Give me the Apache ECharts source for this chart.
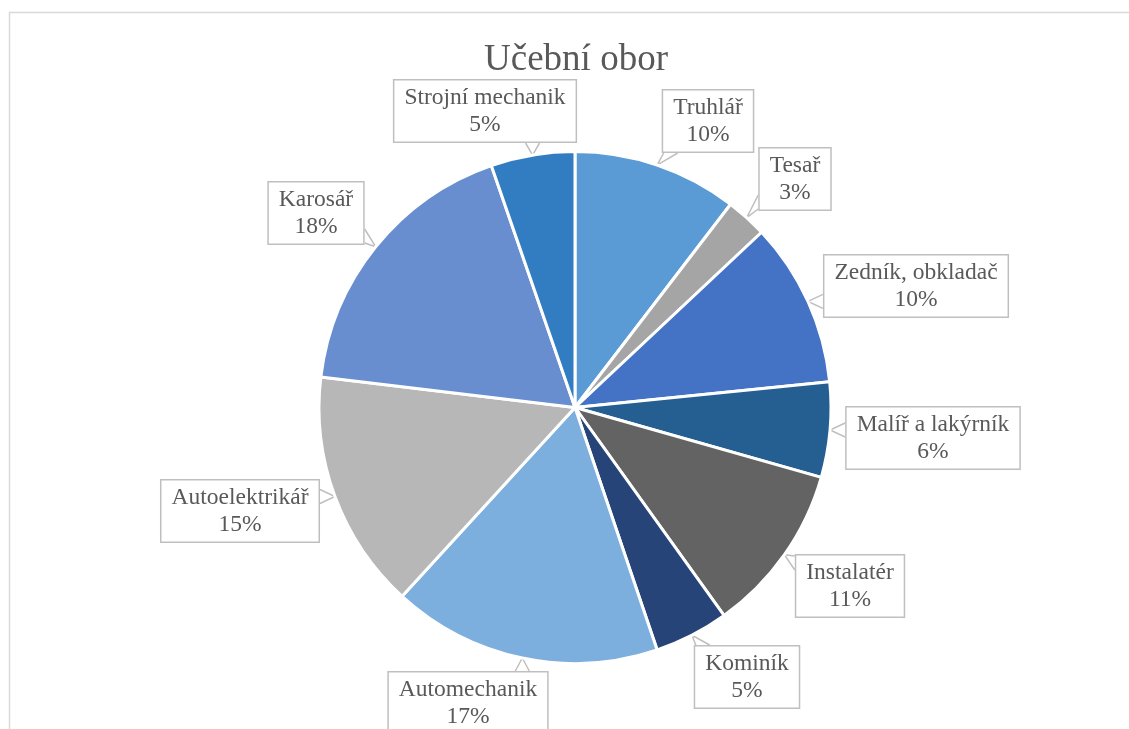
<!DOCTYPE html>
<html>
<head>
<meta charset="utf-8">
<script src="https://cdn.jsdelivr.net/npm/echarts@6/dist/echarts.min.js"></script>
<style>
  html, body { margin: 0; padding: 0; background: #fff; }
  #chart { width: 1129px; height: 729px; }
</style>
</head>
<body>
<div id="chart"></div>
<script>
  // data (share of each obor, in %)
  const obory = [
    'Truhlář',
    'Tesař',
    'Zedník, obkladač',
    'Malíř a lakýrník',
    'Instalatér',
    'Kominík',
    'Automechanik',
    'Autoelektrikář',
    'Karosář',
    'Strojní mechanik',
  ];
  const podily = [10.4, 2.6, 10.4, 6.0, 10.7, 4.7, 17.0, 15.1, 17.8, 5.3];

  // slice colours (office blue palette)
  const barvy = [
    '#5B9BD5', '#A5A5A5', '#4472C4', '#255E91', '#636363',
    '#264478', '#7CAFDD', '#B7B7B7', '#698ED0', '#327DC2',
  ];
  // where each callout box sits (centre of the box)
  const popisky = [
    [708, 121], [795, 179], [916, 286], [933, 438], [850, 586],
    [747, 677], [468, 703], [240, 511], [316, 213], [485, 111],
  ];

  const chart = echarts.init(document.getElementById('chart'));
  const font = '"Liberation Serif", "Times New Roman", serif';

  const clamp = (v, a, b) => Math.max(a, Math.min(b, v));

  // wedge of the callout: two lines from the box edge to the slice edge
  function sipka(tip, r) {
    const l = r.x, t = r.y, rt = r.x + r.width, b = r.y + r.height;
    const dl = l - tip[0], dr = tip[0] - rt, dt = t - tip[1], db = tip[1] - b;
    const m = Math.max(dl, dr, dt, db);
    const half = 7;
    if (m === db || m === dt) {
      const y = m === db ? b : t;
      const cx = clamp(tip[0], l + half + 2, rt - half - 2);
      return [[cx - half, y], tip, [cx + half, y]];
    }
    const x = m === dl ? l : rt;
    const cy = clamp(tip[1], t + half + 2, b - half - 2);
    return [[x, cy - half], tip, [x, cy + half]];
  }

  chart.setOption({
    animation: false,
    title: {
      text: 'Učební obor',
      left: 571,
      textAlign: 'center',
      top: 37,
      textStyle: {
        fontFamily: font,
        fontSize: 37,
        fontWeight: 'normal',
        color: '#595959',
      },
    },
    graphic: [
      {
        type: 'rect',
        shape: { x: 9.5, y: 12.5, width: 1200, height: 800 },
        style: { fill: 'none', stroke: '#D9D9D9', lineWidth: 1.5 },
        silent: true,
      },
    ],
    series: [
      {
        type: 'pie',
        center: [575, 407.5],
        radius: 256,
        startAngle: 90,
        clockwise: true,
        percentPrecision: 0,
        data: obory.map((name, i) => ({
          name,
          value: podily[i],
          itemStyle: { color: barvy[i] },
        })),
        itemStyle: {
          borderColor: '#fff',
          borderWidth: 3,
        },
        label: {
          show: true,
          formatter: '{b}\n{d}%',
          fontFamily: font,
          fontSize: 23.5,
          lineHeight: 27,
          color: '#595959',
          align: 'center',
          backgroundColor: '#fff',
          borderColor: '#BFBFBF',
          borderWidth: 1.5,
          padding: [4, 10, 3, 10],
        },
        labelLine: {
          show: true,
          length: 10,
          length2: 10,
          lineStyle: { color: '#BFBFBF', width: 1.5 },
        },
        labelLayout(params) {
          const p = popisky[params.dataIndex];
          const w = params.labelRect.width;
          const h = params.labelRect.height;
          const rect = { x: p[0] - w / 2, y: p[1] - h / 2, width: w, height: h };
          const tip = params.labelLinePoints[0];
          return {
            x: p[0],
            y: p[1],
            align: 'center',
            verticalAlign: 'middle',
            labelLinePoints: sipka(tip, rect),
          };
        },
      },
    ],
  });
</script>
</body>
</html>
